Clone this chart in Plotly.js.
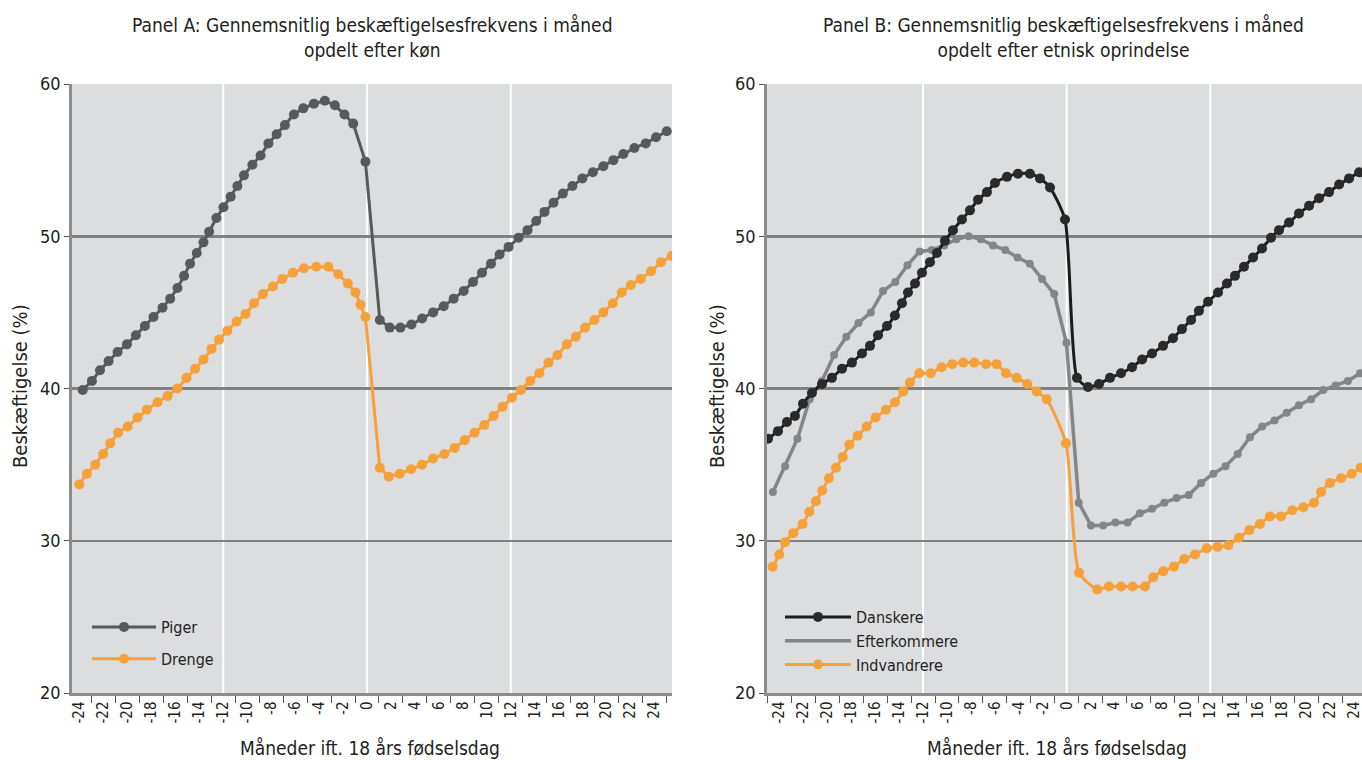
<!DOCTYPE html>
<html><head><meta charset="utf-8">
<script src="https://cdn.plot.ly/plotly-3.0.1.min.js"></script>
<style>html,body{margin:0;padding:0;overflow:hidden;background:#fff}#chart{width:1362px;height:760px}</style>
</head><body><div id="chart"></div>
<script>
// ---------- Data ----------
// Panel A: x = months relative to 18th birthday, y = employment rate (%)
const pigerX = [-23.73,-22.96,-22.29,-21.57,-20.82,-20.04,-19.29,-18.54,-17.82,-17.07,-16.43,-15.82,-15.27,-14.77,-14.21,-13.65,-13.18,-12.57,-11.98,-11.38,-10.82,-10.27,-9.57,-8.88,-8.23,-7.54,-6.85,-6.10,-5.32,-4.43,-3.52,-2.68,-1.88,-1.15,-0.13,
  1.07,1.90,2.79,3.71,4.60,5.52,6.40,7.23,8.07,8.85,9.60,10.35,11.07,11.82,12.65,13.40,14.13,14.82,15.57,16.35,17.15,17.98,18.85,19.73,20.57,21.40,22.32,23.27,24.13,25.02];
const pigerY = [39.9,40.5,41.2,41.8,42.4,42.9,43.5,44.1,44.7,45.3,45.9,46.6,47.4,48.2,48.9,49.6,50.3,51.2,51.9,52.6,53.3,54.0,54.7,55.3,56.1,56.7,57.3,58.0,58.4,58.7,58.9,58.6,58.0,57.4,54.9,
  44.5,44.0,44.0,44.2,44.6,45.0,45.4,45.9,46.4,47.0,47.6,48.2,48.8,49.3,49.9,50.4,51.0,51.6,52.2,52.8,53.3,53.8,54.2,54.6,55.0,55.4,55.8,56.1,56.5,56.9];
const drengeX = [-24.02,-23.38,-22.68,-22.02,-21.43,-20.77,-19.98,-19.15,-18.38,-17.48,-16.65,-15.82,-15.07,-14.35,-13.65,-12.98,-12.35,-11.65,-10.88,-10.13,-9.43,-8.68,-7.85,-7.07,-6.18,-5.27,-4.23,-3.23,-2.40,-1.60,-0.96,-0.54,-0.13,
  1.07,1.82,2.73,3.68,4.60,5.52,6.46,7.32,8.15,8.98,9.79,10.57,11.32,12.10,12.85,13.63,14.38,15.15,15.90,16.68,17.43,18.21,18.98,19.73,20.52,21.27,22.02,22.85,23.71,24.54,25.43];
const drengeY = [33.7,34.4,35.0,35.7,36.4,37.1,37.5,38.1,38.6,39.1,39.5,40.0,40.7,41.3,41.9,42.6,43.2,43.8,44.4,44.9,45.6,46.2,46.7,47.2,47.6,47.9,48.0,48.0,47.5,46.9,46.3,45.5,44.7,
  34.8,34.2,34.4,34.7,35.0,35.4,35.7,36.1,36.6,37.1,37.6,38.2,38.8,39.4,39.9,40.5,41.0,41.7,42.2,42.9,43.4,44.0,44.5,45.0,45.6,46.3,46.8,47.2,47.7,48.3,48.7];

// Panel B
const danskereX = [-24.95,-24.12,-23.37,-22.70,-22.03,-21.28,-20.44,-19.61,-18.77,-17.94,-17.10,-16.43,-15.76,-15.01,-14.35,-13.76,-13.26,-12.67,-12.09,-11.42,-10.84,-10.17,-9.50,-8.75,-8.08,-7.41,-6.66,-5.99,-4.99,-4.07,-3.07,-2.23,-1.39,-0.14,
  0.86,1.78,2.70,3.62,4.54,5.46,6.30,7.13,8.05,8.88,9.63,10.39,11.05,11.81,12.64,13.39,14.06,14.81,15.57,16.32,17.07,17.74,18.58,19.41,20.25,21.08,21.92,22.76,23.59,24.43];
const danskereY = [36.7,37.2,37.8,38.2,39.0,39.7,40.3,40.7,41.3,41.7,42.3,42.8,43.5,44.1,44.8,45.6,46.3,46.9,47.6,48.3,48.9,49.7,50.4,51.1,51.7,52.4,52.9,53.5,53.9,54.1,54.1,53.8,53.2,51.1,
  40.7,40.1,40.3,40.7,41.0,41.4,41.9,42.3,42.8,43.3,43.9,44.5,45.1,45.7,46.3,46.9,47.4,48.0,48.6,49.2,49.9,50.4,50.9,51.5,52.0,52.5,52.9,53.4,53.8,54.2];
const efterkommereX = [-24.54,-23.52,-22.49,-21.47,-20.45,-19.43,-18.41,-17.39,-16.36,-15.34,-14.32,-13.30,-12.28,-11.26,-10.23,-9.21,-8.19,-7.17,-6.15,-5.13,-4.10,-3.08,-2.06,-1.04,-0.02,
  1.01,2.03,3.05,4.07,5.09,6.12,7.14,8.16,9.18,10.20,11.23,12.25,13.27,14.29,15.31,16.33,17.36,18.38,19.40,20.42,21.44,22.47,23.49,24.51];
const efterkommereY = [33.2,34.9,36.7,39.3,40.5,42.2,43.4,44.3,45.0,46.4,47.0,48.1,49.0,49.1,49.4,49.8,50.0,49.8,49.4,49.1,48.6,48.2,47.2,46.2,43.0,
  32.5,31.0,31.0,31.2,31.2,31.8,32.1,32.5,32.8,33.0,33.8,34.4,34.9,35.7,36.8,37.5,37.9,38.4,38.9,39.3,39.9,40.2,40.5,41.0];
const indvandrereX = [-24.56,-24.01,-23.53,-22.84,-22.06,-21.50,-20.94,-20.42,-19.86,-19.27,-18.71,-18.16,-17.46,-16.71,-15.96,-15.10,-14.34,-13.65,-13.09,-12.31,-11.36,-10.44,-9.56,-8.64,-7.72,-6.74,-5.85,-5.07,-4.18,-3.29,-2.51,-1.67,-0.06,
  1.03,2.56,3.53,4.54,5.51,6.54,7.23,8.07,8.96,9.82,10.72,11.70,12.61,13.50,14.39,15.26,16.15,16.98,17.90,18.85,19.77,20.66,21.25,22.00,22.92,23.81,24.56];
const indvandrereY = [28.3,29.1,29.9,30.5,31.1,31.9,32.6,33.3,34.1,34.8,35.5,36.3,36.9,37.5,38.1,38.6,39.1,39.8,40.4,41.0,41.0,41.4,41.6,41.7,41.7,41.6,41.6,41.0,40.7,40.3,39.8,39.3,36.4,
  27.9,26.8,27.0,27.0,27.0,27.0,27.6,28.0,28.3,28.8,29.1,29.5,29.6,29.7,30.2,30.7,31.1,31.6,31.6,32.0,32.2,32.5,33.2,33.8,34.1,34.4,34.8];

// Axis ticks
const tickMonths = [-24,-22,-20,-18,-16,-14,-12,-10,-8,-6,-4,-2,0,2,4,6,8,10,12,14,16,18,20,22,24];
const tickLabels = ['-24','-22','-20','-18','-16','-14','-12','-10','-8','-6','-4','-2','0','2','4','6','8','10','12','14','16','18','20','22','24'];
const minorMonths = [-25,-23,-21,-19,-17,-15,-13,-11,-9,-7,-5,-3,-1,1,3,5,7,9,11,13,15,17,19,21,23,25];
const gridMonths = [-12, 0, 12];
const yTicks = [20, 30, 40, 50, 60];

const titleA = 'Panel A: Gennemsnitlig beskæftigelsesfrekvens i måned<br>opdelt efter køn';
const titleB = 'Panel B: Gennemsnitlig beskæftigelsesfrekvens i måned<br>opdelt efter etnisk oprindelse';
const xTitle = 'Måneder ift. 18 års fødselsdag';
const yTitle = 'Beskæftigelse (%)';

// ---------- Styling ----------
const FONT = "'Liberation Sans Narrow', 'DejaVu Sans Condensed', 'Arial Narrow', sans-serif";
const TXT = '#231f20';
const GRAY = '#58595b', ORANGE = '#f6a03a', BLACK = '#1c1c1c', MID = '#838588';
const W = 1362, H = 760;

function xAxis(domain, range, anchor) {
  return {
    domain: domain, range: range, anchor: anchor,
    tickmode: 'array', tickvals: tickMonths, ticktext: tickLabels, tickangle: -90,
    ticks: '', showgrid: false, zeroline: false, ticklabeloverflow: 'allow',
    showline: true, linecolor: '#8c8c8c', linewidth: 2.5,
    tickfont: {size: 15, color: TXT, family: FONT},
    minor: {tickmode: 'array', tickvals: minorMonths, ticks: 'outside', ticklen: 7, tickwidth: 1, tickcolor: '#555', showgrid: false},
    fixedrange: true
  };
}
function yAxis(anchor) {
  return {
    domain: [67 / H, 676 / H], range: [20, 60], anchor: anchor,
    tickmode: 'array', tickvals: yTicks, ticks: 'outside', ticklen: 5, tickwidth: 1, tickcolor: '#555',
    showgrid: true, gridcolor: '#808080', gridwidth: 2.5, zeroline: false,
    showline: true, linecolor: '#8c8c8c', linewidth: 2.5,
    tickfont: {size: 18, color: TXT, family: FONT}, fixedrange: true
  };
}

const traces = [
  {x: pigerX, y: pigerY, name: 'Piger', type: 'scatter', mode: 'lines+markers', xaxis: 'x', yaxis: 'y', legend: 'legend', legendgroup: 'a1',
   line: {color: GRAY, width: 3}, marker: {color: GRAY, size: 10}},
  {x: drengeX, y: drengeY, name: 'Drenge', type: 'scatter', mode: 'lines+markers', xaxis: 'x', yaxis: 'y', legend: 'legend', legendgroup: 'a2',
   line: {color: ORANGE, width: 3}, marker: {color: ORANGE, size: 10}},
  {x: efterkommereX, y: efterkommereY, name: 'Efterkommere', type: 'scatter', mode: 'lines', xaxis: 'x2', yaxis: 'y2', legend: 'legend2', legendrank: 2,
   line: {color: MID, width: 3.5}},
  {x: efterkommereX, y: efterkommereY, name: 'Efterkommere', type: 'scatter', mode: 'markers', xaxis: 'x2', yaxis: 'y2', showlegend: false,
   marker: {color: MID, size: 8}},
  {x: indvandrereX, y: indvandrereY, name: 'Indvandrere', type: 'scatter', mode: 'lines+markers', xaxis: 'x2', yaxis: 'y2', legend: 'legend2', legendrank: 3,
   line: {color: ORANGE, width: 3, shape: 'spline', smoothing: 0.6}, marker: {color: ORANGE, size: 10}},
  {x: danskereX, y: danskereY, name: 'Danskere', type: 'scatter', mode: 'lines+markers', xaxis: 'x2', yaxis: 'y2', legend: 'legend2', legendrank: 1,
   line: {color: BLACK, width: 3, shape: 'spline', smoothing: 0.6}, marker: {color: '#2a2a2a', size: 10}}
];

const shapes = [];
gridMonths.forEach(function (m) {
  ['x', 'x2'].forEach(function (ax) {
    shapes.push({type: 'line', layer: 'below', xref: ax, yref: (ax === 'x' ? 'y' : 'y2') + ' domain',
      x0: m, x1: m, y0: 0, y1: 1, line: {color: '#ffffff', width: 2}});
  });
});

function ann(text, x, y, size, opts) {
  return Object.assign({text: text, x: x, y: y, xref: 'paper', yref: 'paper', showarrow: false,
    font: {family: FONT, size: size, color: TXT}}, opts || {});
}

const layout = {
  width: W, height: H, margin: {l: 0, r: 0, t: 0, b: 0},
  paper_bgcolor: '#ffffff', plot_bgcolor: '#dcdddf',
  font: {family: FONT, color: TXT},
  showlegend: true,
  xaxis: xAxis([71.7 / W, 672 / W], [-24.65, 25.46], 'y'),
  yaxis: yAxis('x'),
  xaxis2: xAxis([766.7 / W, 1], [-25.06, 24.67], 'y2'),
  yaxis2: yAxis('x2'),
  legend: {x: 87 / W, y: 1 - 610 / H, xanchor: 'left', yanchor: 'top', bgcolor: 'rgba(0,0,0,0)',
    font: {family: FONT, size: 16, color: TXT}, traceorder: 'grouped', tracegroupgap: 8, itemwidth: 64},
  legend2: {x: 780 / W, y: 1 - 600 / H, xanchor: 'left', yanchor: 'top', bgcolor: 'rgba(0,0,0,0)',
    font: {family: FONT, size: 16, color: TXT}, traceorder: 'normal', tracegroupgap: 0, itemwidth: 66},
  shapes: shapes,
  annotations: [
    ann(titleA, 372 / W, 1 - 12 / H, 19, {yanchor: 'top', xanchor: 'center'}),
    ann(titleB, 1063 / W, 1 - 12 / H, 19, {yanchor: 'top', xanchor: 'center'}),
    ann(xTitle, 370 / W, 1 - 748 / H, 19, {yanchor: 'middle', xanchor: 'center'}),
    ann(xTitle, 1057 / W, 1 - 748 / H, 19, {yanchor: 'middle', xanchor: 'center'}),
    ann(yTitle, 20 / W, 1 - 386 / H, 20, {textangle: -90, xanchor: 'center', yanchor: 'middle'}),
    ann(yTitle, 717 / W, 1 - 386 / H, 20, {textangle: -90, xanchor: 'center', yanchor: 'middle'})
  ]
};

Plotly.newPlot('chart', traces, layout, {staticPlot: true, displayModeBar: false});
</script></body></html>
